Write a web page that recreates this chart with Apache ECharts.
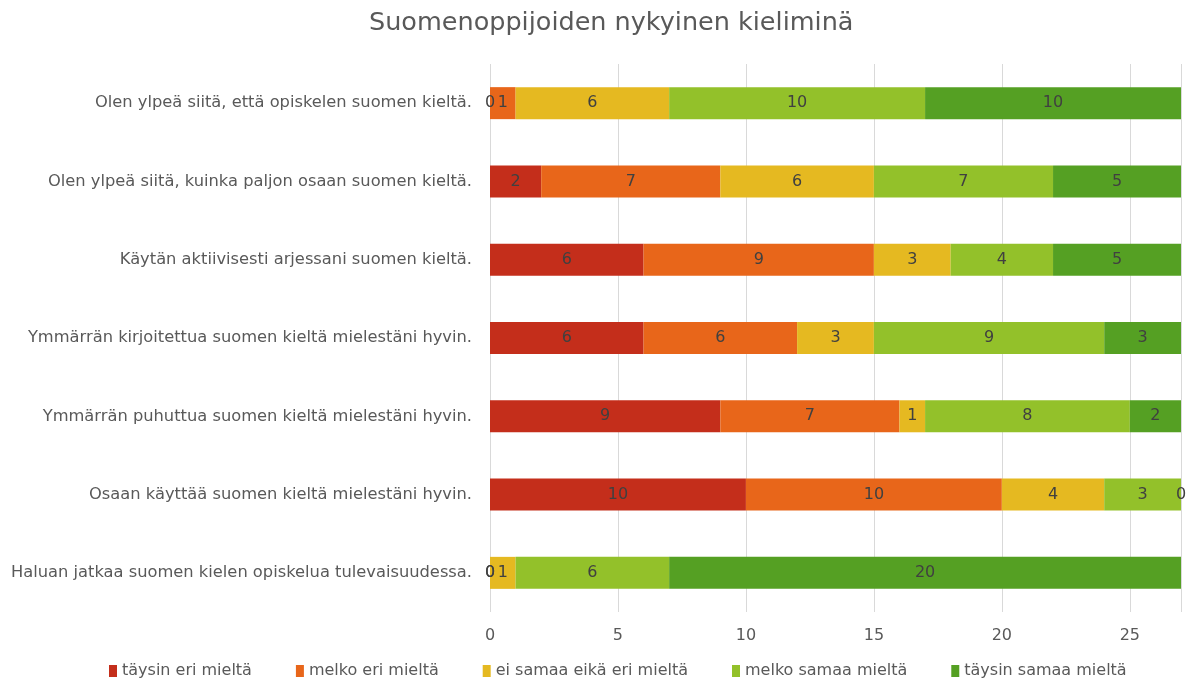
<!DOCTYPE html>
<html><head><meta charset="utf-8">
<script src="https://cdn.jsdelivr.net/npm/echarts@6/dist/echarts.min.js"></script>
<style>html,body{margin:0;padding:0;background:#fff}#c{width:1188px;height:686px}</style>
</head><body><div id="c"></div>
<script>
const categories = [
  "Olen ylpeä siitä, että opiskelen suomen kieltä.",
  "Olen ylpeä siitä, kuinka paljon osaan suomen kieltä.",
  "Käytän aktiivisesti arjessani suomen kieltä.",
  "Ymmärrän kirjoitettua suomen kieltä mielestäni hyvin.",
  "Ymmärrän puhuttua suomen kieltä mielestäni hyvin.",
  "Osaan käyttää suomen kieltä mielestäni hyvin.",
  "Haluan jatkaa suomen kielen opiskelua tulevaisuudessa."
];
const seriesNames = ["täysin eri mieltä","melko eri mieltä","ei samaa eikä eri mieltä","melko samaa mieltä","täysin samaa mieltä"];
const taysinEri   = [0, 2, 6, 6, 9, 10, 0];
const melkoEri    = [1, 7, 9, 6, 7, 10, 0];
const eiSamaa     = [6, 6, 3, 3, 1, 4, 1];
const melkoSamaa  = [10, 7, 4, 9, 8, 3, 6];
const taysinSamaa = [10, 5, 5, 3, 2, 0, 20];
const colors = ["#C42E1B","#E8661A","#E5B921","#93C12A","#55A023"];
const values = [taysinEri, melkoEri, eiSamaa, melkoSamaa, taysinSamaa];
const FONT = "DejaVu Sans";
const chart = echarts.init(document.getElementById('c'));
chart.setOption({
  animation:false,
  textStyle:{fontFamily:FONT},
  title:{text:"Suomenoppijoiden nykyinen kieliminä",left:364,top:5,
    textStyle:{fontFamily:FONT,fontSize:25.5,fontWeight:'normal',color:'#595959'}},
  legend:{bottom:2,left:104,itemWidth:8,itemHeight:12,itemGap:44,icon:'rect',
    textStyle:{fontFamily:FONT,fontSize:16,color:'#595959'}},
  grid:{left:490,right:7,top:64,bottom:74,containLabel:false},
  xAxis:{type:'value',min:0,max:27,interval:5,
    axisLine:{show:false},axisTick:{show:false},
    splitLine:{lineStyle:{color:'#D9D9D9'}},
    axisLabel:{fontFamily:FONT,fontSize:16,color:'#595959',margin:16,
      showMaxLabel:false}},
  yAxis:{type:'category',data:categories,inverse:true,
    axisLine:{show:false},axisTick:{show:false},
    axisLabel:{fontFamily:FONT,fontSize:16.3,color:'#595959',margin:18}},
  series: seriesNames.map((n,i)=>({
    name:n,type:'bar',stack:'t',data:values[i],barWidth:32,
    itemStyle:{color:colors[i]},
    label:{show:true,position:'inside',fontFamily:FONT,fontSize:16,color:'#404040'}
  }))
});
</script></body></html>
